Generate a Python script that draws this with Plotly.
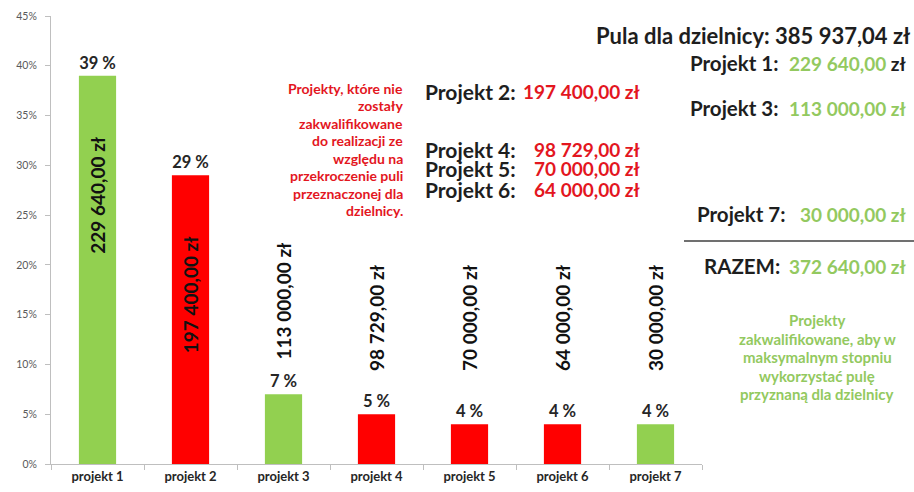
import plotly.graph_objects as go

# ---------------- data ----------------
categories = ["projekt 1", "projekt 2", "projekt 3", "projekt 4", "projekt 5", "projekt 6", "projekt 7"]
percents = [39, 29, 7, 5, 4, 4, 4]
amounts = [229640.00, 197400.00, 113000.00, 98729.00, 70000.00, 64000.00, 30000.00]
qualified = [True, False, True, False, False, False, True]
pool = 385937.04
y_ticks = [0, 5, 10, 15, 20, 25, 30, 35, 40, 45]

red_note = ["Projekty, które nie", "zostały", "zakwalifikowane", "do realizacji ze",
            "względu na", "przekroczenie puli", "przeznaczonej dla", "dzielnicy."]
green_note = ["Projekty", "zakwalifikowane, aby w", "maksymalnym stopniu",
              "wykorzystać pulę", "przyznaną dla dzielnicy"]

# ---------------- styles ----------------
GREEN = "#92D050"
RED = "#FF0000"
RED_TXT = "#E3161E"
GREEN_TXT = "#93C95F"
FONT = "Lato"
DARK = "#1E1E1E"


def fmt(v):
    s = f"{v:,.2f}"
    return s.replace(",", " ").replace(".", ",")


# plot area in pixels
L, R, T, B = 51, 702, 16, 464
W, H = 914, 492


def px(x):
    return (x - L) / (R - L)


def py(y):
    return (B - y) / (B - T)


colors = [GREEN if q else RED for q in qualified]

fig = go.Figure()
fig.add_trace(go.Bar(
    x=categories, y=percents,
    marker=dict(color=colors, line=dict(width=0)),
    width=0.4,
    text=[f"{p} %" for p in percents],
    textposition="outside",
    textangle=0,
    constraintext="none",
    textfont=dict(family=FONT, size=16.5, color="#262626", weight="bold"),
    cliponaxis=False,
    hoverinfo="skip",
))

annotations = []
# rotated amount labels
for c, p, a in zip(categories, percents, amounts):
    if p > 20:
        annotations.append(dict(
            x=c, y=p - 12, xref="x", yref="y", text=f"{fmt(a)} zł",
            textangle=-90, showarrow=False, xanchor="center", yanchor="middle",
            font=dict(family=FONT, size=19, color="#111111", weight="bold")))
    else:
        annotations.append(dict(
            x=c, y=max(p + 3.3, 9.1), xref="x", yref="y", text=f"{fmt(a)} zł",
            textangle=-90, showarrow=False, xanchor="center", yanchor="bottom",
            font=dict(family=FONT, size=19, color="#111111", weight="bold")))


def add_text(x, y, text, size, color=DARK, xanchor="left", weight="bold"):
    annotations.append(dict(
        x=px(x), y=py(y), xref="paper", yref="paper", text=text, showarrow=False,
        xanchor=xanchor, yanchor="middle",
        font=dict(family=FONT, size=size, color=color, weight=weight)))


# pool header
add_text(912, 35, f"Pula dla dzielnicy: {fmt(pool)} zł", 22, xanchor="right")

# qualified projects (right panel)
right_rows = {0: (688, 63), 2: (688, 108), 6: (695, 214)}
for idx, (lx, ry) in right_rows.items():
    add_text(lx, ry, f"Projekt {idx + 1}:", 20.5)
    if idx == 0:
        amt = f"<span style='color:{GREEN_TXT}'>{fmt(amounts[idx])}</span> zł"
    else:
        amt = f"<span style='color:{GREEN_TXT}'>{fmt(amounts[idx])} zł</span>"
    add_text(908, ry, amt, 19, xanchor="right")
total = sum(a for a, q in zip(amounts, qualified) if q)
add_text(702, 266, "RAZEM:", 20.5)
add_text(908, 266, f"<span style='color:{GREEN_TXT}'>{fmt(total)} zł</span>", 19, xanchor="right")

# not qualified projects (middle panel)
mid_rows = {1: 92, 3: 149, 4: 168, 5: 189}
for idx, ry in mid_rows.items():
    add_text(423, ry, f"Projekt {idx + 1}:", 21)
    add_text(642, ry, f"<span style='color:{RED_TXT}'>{fmt(amounts[idx])} zł</span>", 19,
             xanchor="right")

# red note
for i, line in enumerate(red_note):
    add_text(405, 88 + i * 17.5, line, 14, color=RED_TXT, xanchor="right")

# green note
for i, line in enumerate(green_note):
    add_text(817, 320 + i * 18.5, line, 15, color=GREEN_TXT, xanchor="center")

shapes = [dict(type="line", xref="paper", yref="paper", x0=px(684), x1=px(914),
               y0=py(241), y1=py(241), line=dict(color="#404040", width=1.3))]

fig.update_layout(
    width=W, height=H,
    margin=dict(l=L, r=W - R, t=T, b=H - B, pad=0, autoexpand=False),
    paper_bgcolor="white", plot_bgcolor="white",
    showlegend=False,
    annotations=annotations,
    shapes=shapes,
    bargap=0.6,
    xaxis=dict(
        type="category", showline=True, linecolor="#BFBFBF", linewidth=1,
        ticks="outside", tickson="boundaries", ticklen=5, tickcolor="#BFBFBF",
        showgrid=False, zeroline=False, automargin=False,
        tickfont=dict(family=FONT, size=13, color="#262626", weight="bold"),
    ),
    yaxis=dict(
        range=[0, 45], tickvals=y_ticks, ticktext=[f"{v}%" for v in y_ticks],
        showline=True, linecolor="#BFBFBF", linewidth=1,
        ticks="outside", ticklen=5, tickcolor="#BFBFBF",
        showgrid=False, zeroline=False, automargin=False,
        ticklabelstandoff=6,
        tickfont=dict(family=FONT, size=10.5, color="#595959"),
    ),
)

fig.write_html(
    "out.html",
    config={"displayModeBar": False},
    post_script="document.body.style.margin='0px';document.body.style.overflow='hidden';",
)
